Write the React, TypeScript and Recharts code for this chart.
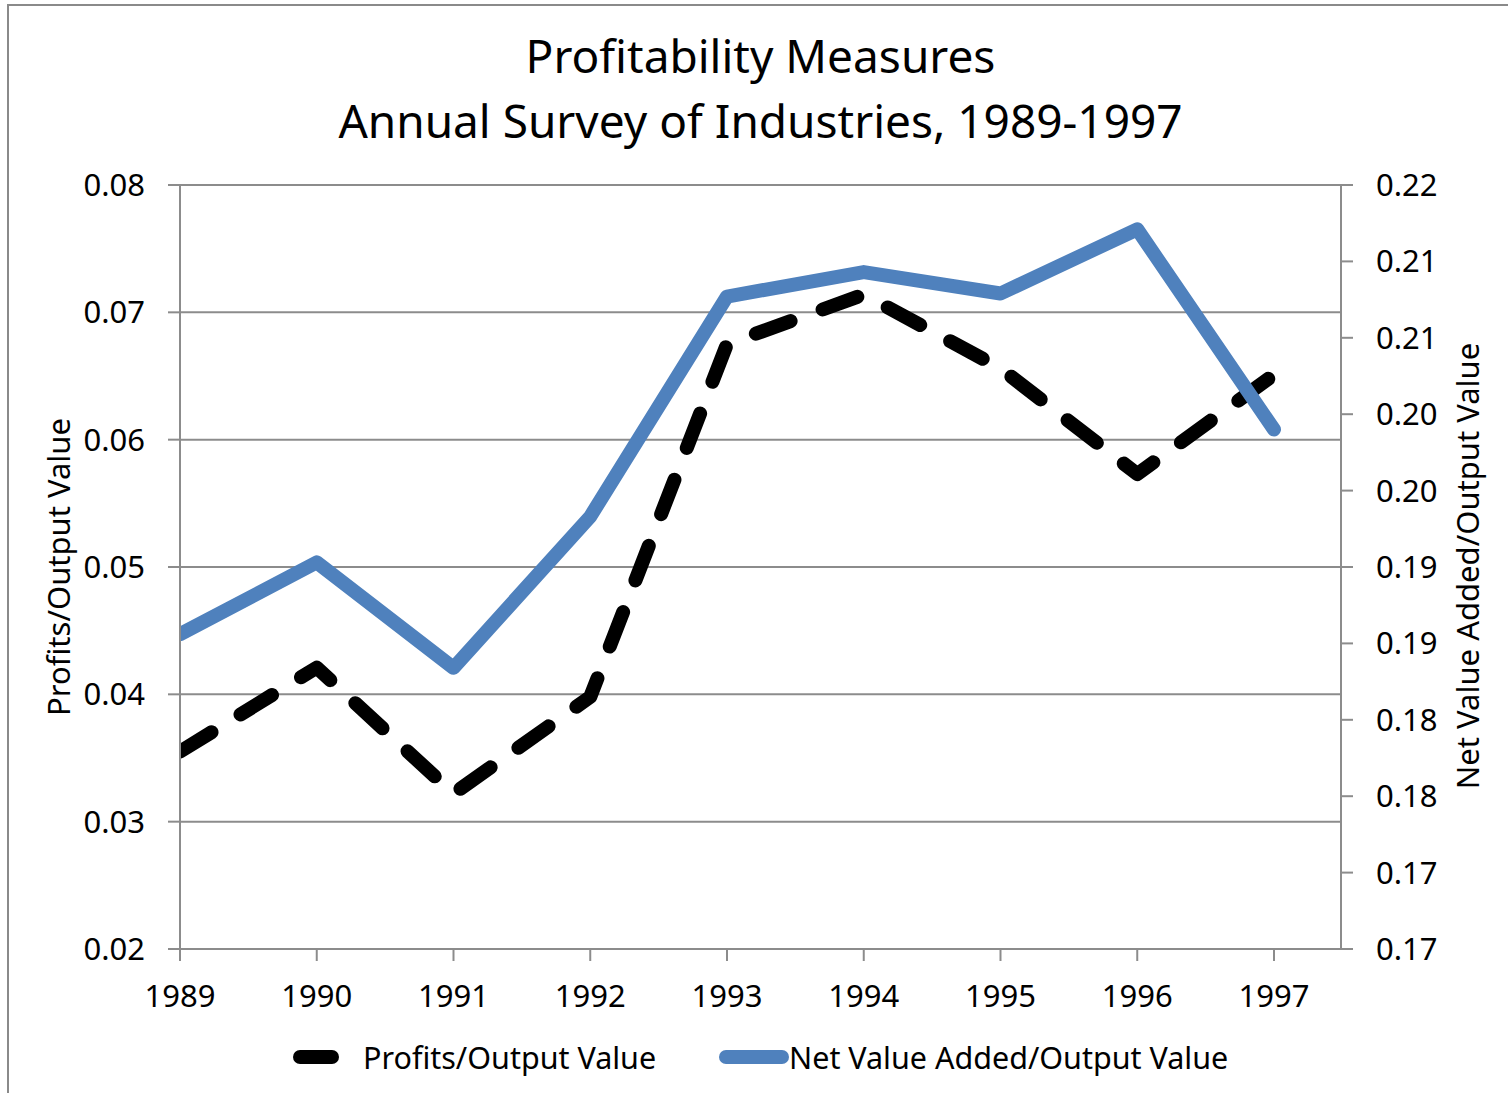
import React from 'react';
import { LineChart, Line, XAxis, YAxis, CartesianGrid } from 'recharts';

const FONT = '"Noto Sans", "DejaVu Sans", sans-serif';
const GRID = '#8c8c8c';
const BLUE = '#4F81BD';

const years = [1989, 1990, 1991, 1992, 1993, 1994, 1995, 1996, 1997];
const profits = [0.0355, 0.0421, 0.0322, 0.0398, 0.0675, 0.0714, 0.0656, 0.0573, 0.0651];
const netValueAdded = [0.1906, 0.1953, 0.1884, 0.1983, 0.2127, 0.2143, 0.2129, 0.2171, 0.204];

const leftTicks = [0.02, 0.03, 0.04, 0.05, 0.06, 0.07, 0.08];
const rightTicks = [0.17, 0.175, 0.18, 0.185, 0.19, 0.195, 0.2, 0.205, 0.21, 0.215, 0.22];
const rightTickLabels = ['0.17', '0.17', '0.18', '0.18', '0.19', '0.19', '0.20', '0.20', '0.21', '0.21', '0.22'];

const titleLines = ['Profitability Measures', 'Annual Survey of Industries, 1989-1997'];
const leftTitle = 'Profits/Output Value';
const rightTitle = 'Net Value Added/Output Value';

const data = years.map((year, i) => ({ year, profits: profits[i], nva: netValueAdded[i] }));

const tickStyle = { fill: '#000', fontSize: 31, fontFamily: FONT };
const lineStyle = { stroke: GRID, strokeWidth: 2 };

const legendItems = [
  { name: leftTitle, color: '#000', left: 293, width: 46, textLeft: 363 },
  { name: rightTitle, color: BLUE, left: 719, width: 70, textLeft: 789 },
];

const App: React.FC = () => {
  return (
    <div style={{ position: 'fixed', left: 0, top: 0, width: 1508, height: 1093, background: '#fff', fontFamily: FONT, overflow: 'hidden' }}>
      <div style={{ position: 'absolute', left: 7, top: 4, width: 1520, height: 1100, borderLeft: '2px solid #8a8a8a', borderTop: '2px solid #8a8a8a' }} />

      {titleLines.map((t, i) => (
        <div key={t} style={{ position: 'absolute', left: 180, width: 1161, top: 32 + i * 65, textAlign: 'center', fontSize: 46, lineHeight: 1, color: '#000', whiteSpace: 'nowrap' }}>
          {t}
        </div>
      ))}

      <div style={{ position: 'absolute', left: 0, top: 0 }}>
        <LineChart width={1508} height={1093} data={data} margin={{ top: 185, right: 0, bottom: 64, left: 0 }}>
          <CartesianGrid yAxisId="left" vertical={false} stroke={GRID} strokeWidth={2} />
          <XAxis
            dataKey="year"
            type="number"
            domain={[1989, 1997.49]}
            ticks={years}
            interval={0}
            allowDataOverflow
            height={80}
            tickSize={12}
            tickMargin={24}
            axisLine={lineStyle}
            tickLine={lineStyle}
            tick={tickStyle}
          />
          <YAxis
            yAxisId="left"
            domain={[0.02, 0.08]}
            ticks={leftTicks}
            interval={0}
            width={180}
            tickSize={12}
            tickMargin={23}
            tickFormatter={(v: number) => v.toFixed(2)}
            axisLine={lineStyle}
            tickLine={lineStyle}
            tick={tickStyle}
          />
          <YAxis
            yAxisId="right"
            orientation="right"
            domain={[0.17, 0.22]}
            ticks={rightTicks}
            interval={0}
            width={167}
            tickSize={12}
            tickMargin={23}
            tickFormatter={(v: number, i: number) => rightTickLabels[i]}
            axisLine={lineStyle}
            tickLine={lineStyle}
            tick={tickStyle}
          />
          <Line
            yAxisId="left"
            dataKey="profits"
            name={leftTitle}
            stroke="#000"
            strokeWidth={14}
            strokeDasharray="37 34"
            strokeLinecap="round"
            strokeLinejoin="round"
            dot={false}
            activeDot={false}
            isAnimationActive={false}
          />
          <Line
            yAxisId="right"
            dataKey="nva"
            name={rightTitle}
            stroke={BLUE}
            strokeWidth={14}
            strokeLinecap="round"
            strokeLinejoin="round"
            dot={false}
            activeDot={false}
            isAnimationActive={false}
          />
        </LineChart>
      </div>

      <div style={{ position: 'absolute', left: 58, top: 567, transform: 'translate(-50%, -50%) rotate(-90deg)', fontSize: 31, lineHeight: 1, whiteSpace: 'nowrap', color: '#000' }}>
        {leftTitle}
      </div>
      <div style={{ position: 'absolute', left: 1467, top: 566, transform: 'translate(-50%, -50%) rotate(-90deg)', fontSize: 31, lineHeight: 1, whiteSpace: 'nowrap', color: '#000' }}>
        {rightTitle}
      </div>

      {legendItems.map((item) => (
        <React.Fragment key={item.name}>
          <div style={{ position: 'absolute', left: item.left, top: 1050, width: item.width, height: 14, borderRadius: 7, background: item.color }} />
          <div style={{ position: 'absolute', left: item.textLeft, top: 1042, fontSize: 30.5, lineHeight: 1, whiteSpace: 'nowrap', color: '#000' }}>
            {item.name}
          </div>
        </React.Fragment>
      ))}
    </div>
  );
};

export default App;
